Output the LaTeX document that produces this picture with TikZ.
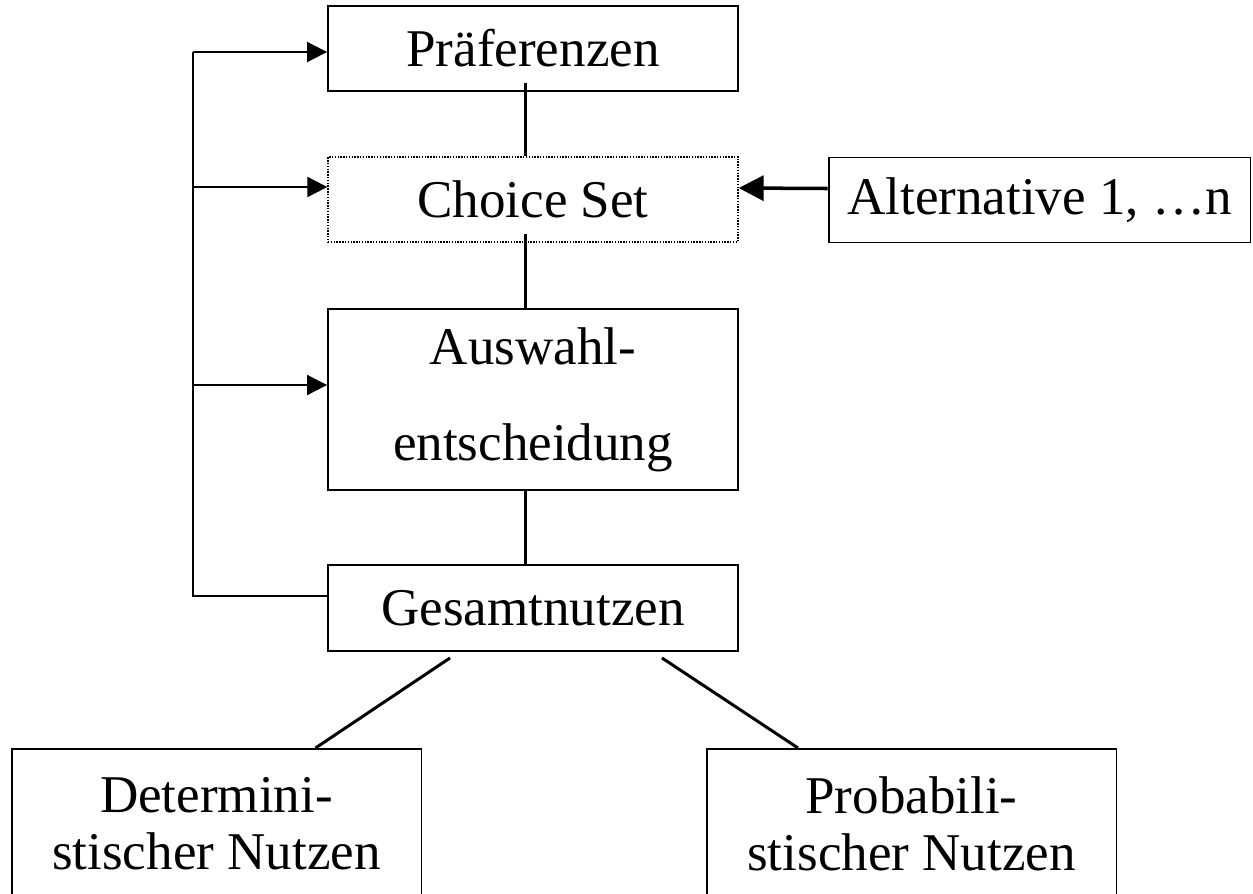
\documentclass[tikz,border=0pt]{standalone}
\usepackage{fontspec}
\setmainfont{Liberation Serif}
\usetikzlibrary{arrows.meta}
\tikzset{
  box/.style={draw, line width=1.1pt, minimum width=8.2cm, minimum height=1.7cm,
    inner sep=0pt, align=center, font=\fontsize{30.2}{32.4}\selectfont},
  dotbox/.style={box, line width=0.8pt, dash pattern=on 0.8pt off 0.8pt},
  link/.style={line width=1.7pt},
  back/.style={line width=1.1pt},
  tip/.style={back, -{Triangle[length=0.4cm,width=0.4cm]}},
  bigtip/.style={line width=2pt, -{Triangle[length=0.5cm,width=0.5cm]}}
}

\begin{document}
\begin{tikzpicture}[x=0.02cm,y=-0.02cm]
      \useasboundingbox (0,0) rectangle (1253,893);
      \clip (0,0) rectangle (1253,893);

      \node (pref)   [box]    at (533,48.5)  {Präferenzen};
      \node (choice) [dotbox] at (533,199.5) {Choice Set};
      \node (alt)    [box, minimum width=8.44cm] at (1039.5,200) {Alternative 1, …n};
      \node (ausw)   [box, minimum height=3.62cm, font=\fontsize{30.2}{54.6}\selectfont]
                              at (533,399.5) {Auswahl-\\entscheidung};
      \node (ges)    [box, minimum height=1.72cm] at (533,608) {Gesamtnutzen};
      \node (det)    [box, anchor=north, minimum height=2.98cm] at (216.5,748)
                              {Determini-\\stischer Nutzen};
      \node (prob)   [box, anchor=north, minimum height=2.98cm] at (911.5,748)
                              {Probabili-\\stischer Nutzen};

      \coordinate (fbtop) at (193,52);
      \coordinate (fbch)  at (193,187);
      \coordinate (fbaw)  at (193,385);
      \coordinate (fbbot) at (193,596);

      % main column
      \draw [link] ([xshift=-0.16cm,yshift=0.18cm]pref.south) -- ([xshift=-0.16cm]choice.north);
      \draw [link] ([xshift=-0.16cm,yshift=0.18cm]choice.south) -- ([xshift=-0.16cm]ausw.north);
      \draw [link] ([xshift=-0.16cm]ausw.south) -- ([xshift=-0.16cm]ges.north);
      \draw [bigtip] ([yshift=0.23cm]alt.west) -- ([yshift=0.23cm]choice.east);

      % feedback
      \draw [back] (fbbot -| ges.west) -- (fbbot) -- (fbtop);
      \draw [tip] (fbtop) -- (fbtop -| pref.west);
      \draw [tip] (fbch)  -- (fbch -| choice.west);
      \draw [tip] (fbaw)  -- (fbaw -| ausw.west);

      % split
      \draw [link] ([xshift=-1.66cm,yshift=-0.12cm]ges.south) -- ([xshift=1.98cm]det.north);
      \draw [link] ([xshift=2.58cm,yshift=-0.12cm]ges.south) -- ([xshift=-2.27cm]prob.north);
    \end{tikzpicture}
\end{document}
